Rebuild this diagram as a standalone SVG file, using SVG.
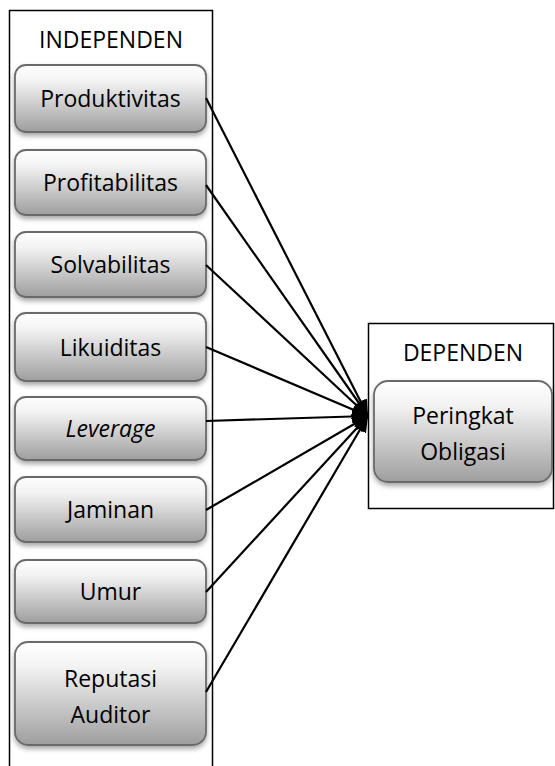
<svg xmlns="http://www.w3.org/2000/svg" width="555" height="766" viewBox="0 0 555 766">
<defs>
<linearGradient id="g" x1="0" y1="0" x2="0" y2="1">
<stop offset="0" stop-color="#ffffff"/>
<stop offset="0.25" stop-color="#f2f2f2"/>
<stop offset="1" stop-color="#9e9e9e"/>
</linearGradient>
<filter id="sh" x="-10%" y="-10%" width="120%" height="130%">
<feDropShadow dx="0" dy="3" stdDeviation="2.5" flood-color="#000" flood-opacity="0.35"/>
</filter>
<marker id="ah" markerUnits="userSpaceOnUse" viewBox="0 0 16 14" refX="16" refY="7" markerWidth="16" markerHeight="14" orient="auto">
<path d="M0,0 L16,7 L0,14 z" fill="#000"/>
</marker>
<style>
.frame{fill:#fff;stroke:#000;stroke-width:1.5}
.node{fill:url(#g);stroke:#6b6b6b;stroke-width:1.8;filter:url(#sh)}
.t{font-family:"Open Sans","Liberation Sans",sans-serif;font-size:23px;fill:#000;text-anchor:middle}
.c{stroke:#000;stroke-width:2.2;fill:none;marker-end:url(#ah)}
</style>
</defs>
<rect width="555" height="766" fill="#fff"/>
<g id="independen">
<rect class="frame" x="9.5" y="10.5" width="203" height="770"/>
<text class="t" x="111" y="48">INDEPENDEN</text>
</g>
<g id="dependen">
<rect class="frame" x="368.5" y="323.5" width="185" height="185"/>
<text class="t" x="463" y="361">DEPENDEN</text>
</g>
<g id="produktivitas">
<rect class="node" x="15" y="65" width="191" height="67" rx="11"/>
<text class="t" x="110.5" y="107">Produktivitas</text>
</g>
<g id="profitabilitas">
<rect class="node" x="15" y="150" width="191" height="65" rx="11"/>
<text class="t" x="110.5" y="191">Profitabilitas</text>
</g>
<g id="solvabilitas">
<rect class="node" x="15" y="232" width="191" height="65" rx="11"/>
<text class="t" x="110.5" y="273">Solvabilitas</text>
</g>
<g id="likuiditas">
<rect class="node" x="15" y="313" width="191" height="68" rx="11"/>
<text class="t" x="110.5" y="356">Likuiditas</text>
</g>
<g id="leverage">
<rect class="node" x="15" y="397" width="191" height="63" rx="11"/>
<text class="t" x="110.5" y="437" font-style="italic">Leverage</text>
</g>
<g id="jaminan">
<rect class="node" x="15" y="477" width="191" height="65" rx="11"/>
<text class="t" x="110.5" y="518">Jaminan</text>
</g>
<g id="umur">
<rect class="node" x="15" y="560" width="191" height="63" rx="11"/>
<text class="t" x="110.5" y="600">Umur</text>
</g>
<g id="reputasi">
<rect class="node" x="15" y="642" width="191" height="103" rx="13"/>
<text class="t" x="110.5" y="687">Reputasi</text>
<text class="t" x="110.5" y="723">Auditor</text>
</g>
<g id="peringkat">
<rect class="node" x="374" y="381" width="178" height="101" rx="14"/>
<text class="t" x="463" y="424">Peringkat</text>
<text class="t" x="463" y="460">Obligasi</text>
</g>
<g id="connectors">
<line class="c" x1="206" y1="98" x2="368" y2="416"/>
<line class="c" x1="206" y1="185" x2="368" y2="416"/>
<line class="c" x1="206" y1="265" x2="368" y2="416"/>
<line class="c" x1="206" y1="347" x2="368" y2="416"/>
<line class="c" x1="206" y1="421" x2="368" y2="416"/>
<line class="c" x1="206" y1="510" x2="368" y2="416"/>
<line class="c" x1="206" y1="592" x2="368" y2="416"/>
<line class="c" x1="206" y1="692" x2="368" y2="416"/>
</g>
</svg>
